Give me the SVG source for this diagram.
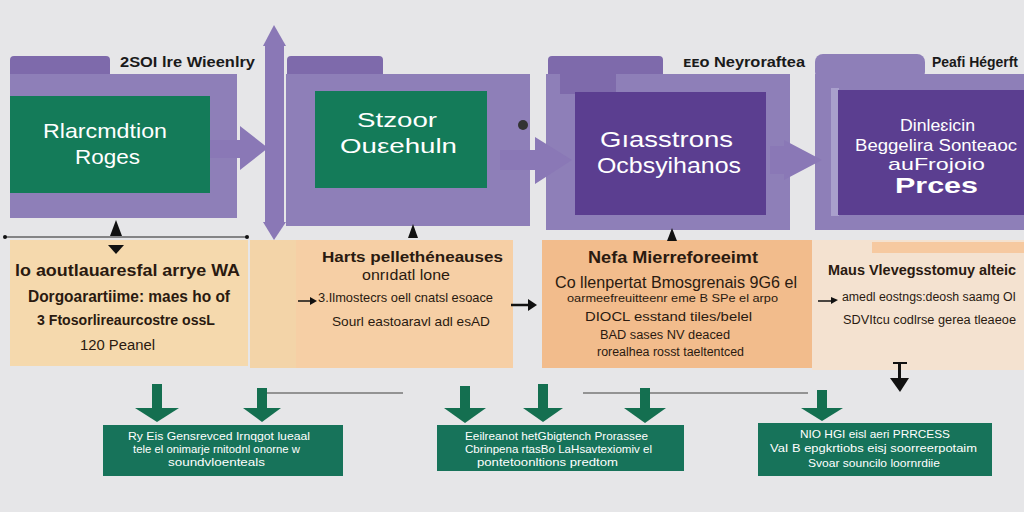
<svg xmlns="http://www.w3.org/2000/svg" width="1024" height="512" viewBox="0 0 1024 512">
<defs>
<style>
.bg{fill:#e6e6e8}
.panel{fill:#8e7fb8}
.tab{fill:#7e6aab}
.green{fill:#147b59}
.deep{fill:#5b3e90}
.parr{fill:#8a78b6}
.wt{font-family:"Liberation Sans",Arial,sans-serif;fill:#ffffff;text-anchor:start}
.lbl{font-family:"Liberation Sans",Arial,sans-serif;font-weight:bold;font-size:14px;fill:#1a1a1a}
.bt{font-family:"Liberation Sans",Arial,sans-serif;fill:#2a1a10}
.gt{font-family:"Liberation Sans",Arial,sans-serif;font-size:11px;fill:#ffffff}
.gbox{fill:#17735a}
.garr{fill:#146f50}
.blk{fill:#111111}
</style>
</defs>
<rect class="bg" x="0" y="0" width="1024" height="512"/>

<g id="panel1">
  <rect class="tab" x="10" y="56" width="100" height="22" rx="4"/>
  <rect class="panel" x="10" y="74" width="227" height="144"/>
  <rect class="green" x="10" y="96" width="200" height="97"/>
  <text class="wt" x="43" y="138" font-size="21" textLength="124" lengthAdjust="spacingAndGlyphs">Rlarcmdtion</text>
  <text class="wt" x="75" y="164" font-size="21" textLength="65" lengthAdjust="spacingAndGlyphs">Roges</text>
  <text class="lbl" x="120" y="67" textLength="135" lengthAdjust="spacingAndGlyphs">2SOI lre Wieenlry</text>
</g>

<g id="panel2">
  <rect class="tab" x="287" y="56" width="96" height="22" rx="4"/>
  <rect class="panel" x="286" y="74" width="244" height="152"/>
  <rect class="green" x="315" y="91" width="172" height="97"/>
  <text class="wt" x="357" y="127" font-size="21" textLength="80" lengthAdjust="spacingAndGlyphs">Stzoor</text>
  <text class="wt" x="340" y="153" font-size="21" textLength="117" lengthAdjust="spacingAndGlyphs">Ouεehuln</text>
  <circle cx="523" cy="125" r="5" fill="#333"/>
</g>

<g id="panel3">
  <rect class="tab" x="548" y="56" width="115" height="22" rx="4"/>
  <rect class="panel" x="546" y="74" width="244" height="156"/>
  <rect class="tab" x="560" y="74" width="56" height="20"/>
  <rect class="deep" x="575" y="92" width="191" height="123"/>
  <text class="wt" x="600" y="147" font-size="22" textLength="133" lengthAdjust="spacingAndGlyphs">Gıasstrons</text>
  <text class="wt" x="597" y="173" font-size="22" textLength="144" lengthAdjust="spacingAndGlyphs">Ocbsyihanos</text>
  <text class="lbl" x="683" y="67" textLength="122" lengthAdjust="spacingAndGlyphs">ᴇᴇᴏ Neyroraftea</text>
</g>

<g id="panel4">
  <rect class="panel" x="815" y="54" width="110" height="26" rx="8"/>
  <rect class="panel" x="815" y="74" width="209" height="156"/>
  <rect fill="#a9a0cc" x="831" y="88" width="8" height="128"/>
  <rect class="deep" x="838" y="90" width="186" height="125"/>
  <text class="wt" x="900" y="131" font-size="17" textLength="75" lengthAdjust="spacingAndGlyphs">Dinleɛicin</text>
  <text class="wt" x="855" y="151" font-size="16" textLength="162" lengthAdjust="spacingAndGlyphs">Beggelira Sonteaoc</text>
  <text class="wt" x="888" y="170" font-size="17" textLength="97" lengthAdjust="spacingAndGlyphs">auFrojoio</text>
  <text class="wt" x="895" y="193" font-size="22" font-weight="bold" textLength="83" lengthAdjust="spacingAndGlyphs">Prces</text>
  <text class="lbl" x="932" y="67" font-size="13" textLength="86" lengthAdjust="spacingAndGlyphs">Peafi Hégerft</text>
</g>

<g id="row2">
  <rect fill="#f3d4a8" x="250" y="240" width="46" height="128"/>
</g>

<g id="box1">
  <rect fill="#f5d9ad" x="10" y="240" width="238" height="126"/>
  <text class="bt" x="15" y="276" font-size="16" font-weight="bold" textLength="225" lengthAdjust="spacingAndGlyphs">lo aoutlauaresfal arrye WA</text>
  <text class="bt" x="28" y="302" font-size="16" font-weight="bold" textLength="202" lengthAdjust="spacingAndGlyphs">Dorgoarartiime: maes ho of</text>
  <text class="bt" x="37" y="325" font-size="14" font-weight="bold" textLength="178" lengthAdjust="spacingAndGlyphs">3 Ftosorlireaurcostre ossL</text>
  <text class="bt" x="80" y="350" font-size="14" textLength="75" lengthAdjust="spacingAndGlyphs">120 Peanel</text>
</g>

<g id="box2">
  <rect fill="#f6cfa5" x="296" y="240" width="217" height="128"/>
  <text class="bt" x="322" y="262" font-size="15" font-weight="bold" textLength="181" lengthAdjust="spacingAndGlyphs">Harts pellethéneauses</text>
  <text class="bt" x="362" y="280" font-size="14" textLength="88" lengthAdjust="spacingAndGlyphs">onrıdatl lone</text>
  <text class="bt" x="318" y="302" font-size="13" textLength="175" lengthAdjust="spacingAndGlyphs">3.Ilmostecrs oell cnatsl esoace</text>
  <text class="bt" x="332" y="326" font-size="13" textLength="158" lengthAdjust="spacingAndGlyphs">Sourl eastoaravl adl esAD</text>
</g>

<g id="box3">
  <rect fill="#f2bc8c" x="542" y="240" width="270" height="128"/>
  <text class="bt" x="588" y="263" font-size="16" font-weight="bold" textLength="170" lengthAdjust="spacingAndGlyphs">Nefa Mierreforeeimt</text>
  <text class="bt" x="555" y="288" font-size="17" textLength="242" lengthAdjust="spacingAndGlyphs">Co llenpertat Bmosgrenais 9G6 el</text>
  <text class="bt" x="567" y="302" font-size="11" textLength="211" lengthAdjust="spacingAndGlyphs">oarmeefreuitteenr eme B SPe el arpo</text>
  <text class="bt" x="585" y="321" font-size="13" textLength="167" lengthAdjust="spacingAndGlyphs">DIOCL esstand tiles/belel</text>
  <text class="bt" x="600" y="339" font-size="12" textLength="130" lengthAdjust="spacingAndGlyphs">BAD sases NV deaced</text>
  <text class="bt" x="597" y="356" font-size="12" textLength="147" lengthAdjust="spacingAndGlyphs">rorealhea rosst taeltentced</text>
</g>

<g id="box4">
  <rect fill="#f4e2d0" x="812" y="240" width="212" height="130"/>
  <rect fill="#f6c9a0" x="872" y="242" width="152" height="11"/>
  <text class="bt" x="828" y="275" font-size="14" font-weight="bold" textLength="188" lengthAdjust="spacingAndGlyphs">Maus Vlevegsstomuy alteic</text>
  <text class="bt" x="842" y="301" font-size="12" textLength="174" lengthAdjust="spacingAndGlyphs">amedl eostngs:deosh saamg OI</text>
  <text class="bt" x="843" y="324" font-size="12" textLength="173" lengthAdjust="spacingAndGlyphs">SDVItcu codlrse gerea tleaeoe</text>
</g>

<g id="out1">
  <rect class="gbox" x="103" y="425" width="240" height="51"/>
  <text class="gt" x="128" y="440" textLength="182" lengthAdjust="spacingAndGlyphs">Ry Eis Gensrevced Irnqgot lueaal</text>
  <text class="gt" x="133" y="453" textLength="167" lengthAdjust="spacingAndGlyphs">tele el onimarje rnitodnl onorne w</text>
  <text class="gt" x="168" y="466" textLength="97" lengthAdjust="spacingAndGlyphs">soundvloenteals</text>
</g>

<g id="out2">
  <rect class="gbox" x="437" y="425" width="247" height="46"/>
  <text class="gt" x="465" y="440" textLength="183" lengthAdjust="spacingAndGlyphs">Eeilreanot hetGbigtench Prorassee</text>
  <text class="gt" x="465" y="453" textLength="187" lengthAdjust="spacingAndGlyphs">Cbrinpena rtasBo LaHsavtexiomiv el</text>
  <text class="gt" x="477" y="466" textLength="141" lengthAdjust="spacingAndGlyphs">pontetoonltions predtom</text>
</g>

<g id="out3">
  <rect class="gbox" x="758" y="423" width="234" height="53"/>
  <text class="gt" x="800" y="438" font-size="13" textLength="150" lengthAdjust="spacingAndGlyphs">NIO  HGI eisl aeri PRRCESS</text>
  <text class="gt" x="770" y="452" textLength="207" lengthAdjust="spacingAndGlyphs">VaI B epgkrtiobs eisj soorreerpotaim</text>
  <text class="gt" x="808" y="467" textLength="132" lengthAdjust="spacingAndGlyphs">Svoar souncilo loornrdiie</text>
</g>

<g id="connectors">
  <rect class="parr" x="265" y="44" width="19" height="180"/>
  <polygon class="parr" points="263,46 274,25 286,46"/>
  <polygon class="parr" points="263,222 274,240 286,222"/>
  <polygon class="parr" points="210,140 240,140 240,126 268,148 240,170 240,158 210,158"/>
  <polygon class="parr" points="500,150 535,150 535,137 572,160 535,184 535,170 500,170"/>
  <polygon class="parr" points="770,146 784,146 784,140 822,160 784,180 784,174 770,174"/>
  <line x1="5" y1="237" x2="247" y2="237" stroke="#222" stroke-width="1"/>
  <circle cx="5" cy="237" r="2" class="blk"/>
  <circle cx="247" cy="237" r="2" class="blk"/>
  <polygon class="blk" points="110,236 116,220 122,236"/>
  <polygon class="blk" points="108,245 124,245 116,254"/>
  <polygon class="blk" points="408,238 413,224 418,238"/>
  <polygon class="blk" points="667,241 672,228 677,241"/>
  <line x1="298" y1="301" x2="312" y2="301" stroke="#111" stroke-width="1.5"/>
  <polygon class="blk" points="310,297 317,301 310,305"/>
  <line x1="511" y1="305" x2="530" y2="305" stroke="#111" stroke-width="2.5"/>
  <polygon class="blk" points="528,299 537,305 528,311"/>
  <line x1="818" y1="301" x2="833" y2="301" stroke="#111" stroke-width="1.5"/>
  <polygon class="blk" points="831,297 838,300 831,304"/>
  <line x1="893" y1="363" x2="907" y2="363" stroke="#111" stroke-width="2"/>
  <rect class="blk" x="898" y="363" width="3" height="20"/>
  <polygon class="blk" points="890,378 909,378 900,392"/>
  <line x1="257" y1="393" x2="403" y2="393" stroke="#777" stroke-width="1.5"/>
  <line x1="583" y1="393" x2="808" y2="393" stroke="#777" stroke-width="1.5"/>
  <rect class="garr" x="152" y="384" width="10" height="26"/>
  <polygon class="garr" points="135,408 179,408 157,422"/>
  <rect class="garr" x="257" y="388" width="10" height="22"/>
  <polygon class="garr" points="243,408 281,408 262,422"/>
  <rect class="garr" x="460" y="386" width="10" height="24"/>
  <polygon class="garr" points="444,408 486,408 465,423"/>
  <rect class="garr" x="538" y="384" width="10" height="26"/>
  <polygon class="garr" points="523,408 563,408 543,422"/>
  <rect class="garr" x="640" y="388" width="10" height="22"/>
  <polygon class="garr" points="624,408 666,408 645,423"/>
  <rect class="garr" x="817" y="390" width="10" height="20"/>
  <polygon class="garr" points="801,408 843,408 822,421"/>
</g>
</svg>
